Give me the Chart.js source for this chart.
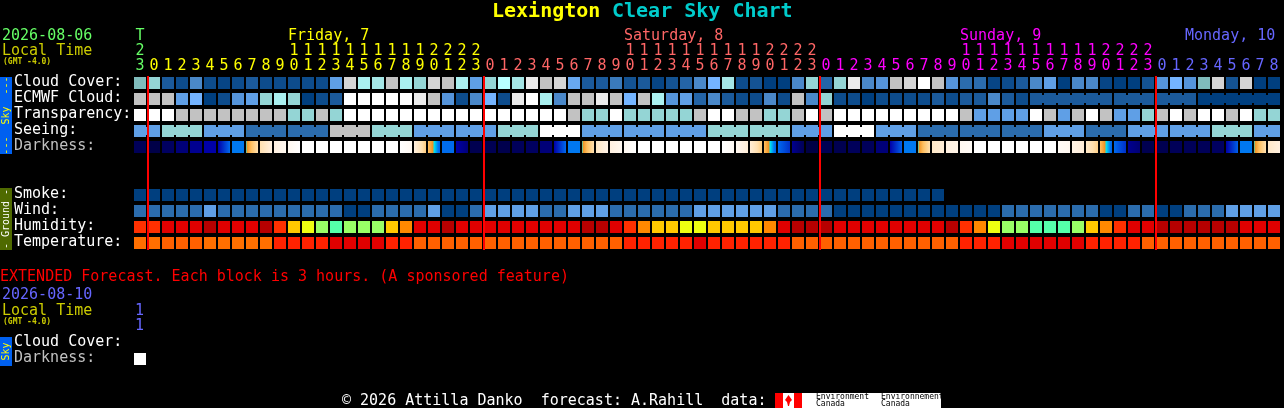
<!DOCTYPE html>
<html lang="en">
<head>
  <meta charset="UTF-8" />
  <title>Lexington Clear Sky Chart</title>
  <script src="https://cdnjs.cloudflare.com/ajax/libs/Chart.js/4.4.1/chart.umd.js"></script>
  <style>
    html, body { margin: 0; padding: 0; background: #000; overflow: hidden; }
    canvas { display: block; }
  </style>
</head>
<body>
  <canvas id="csc" width="1284" height="408"></canvas>

  <script>
    // hours as printed above each column (tens, ones)
    const tickTop = ['T']
    const tickTens = ['2','','','','','','','','','','','1','1','1','1','1','1','1','1','1','1','2','2','2','2','','','','','','','','','','','1','1','1','1','1','1','1','1','1','1','2','2','2','2','','','','','','','','','','','1','1','1','1','1','1','1','1','1','1','2','2','2','2','','','','','','','','','']
    const tickOnes = ['3','0','1','2','3','4','5','6','7','8','9','0','1','2','3','4','5','6','7','8','9','0','1','2','3','0','1','2','3','4','5','6','7','8','9','0','1','2','3','4','5','6','7','8','9','0','1','2','3','0','1','2','3','4','5','6','7','8','9','0','1','2','3','4','5','6','7','8','9','0','1','2','3','0','1','2','3','4','5','6','7','8']
    // column where each day's colour starts
    const dayStarts = [0, 1, 25, 49, 73]
    const dayColors = ['#66ff66', '#ffff00', '#ff6666', '#ff00ff', '#6666ff']
    const midnights = [0.57, 24.57, 48.57, 72.57]

    // percent cloud
    const cloudCover = [65,70,20,10,40,10,5,10,20,10,10,10,10,10,50,92,80,75,90,80,70,92,90,80,50,70,85,75,95,90,92,55,20,20,35,15,20,5,15,25,40,60,75,10,15,0,0,40,70,25,70,95,40,45,90,92,100,90,45,30,30,5,10,20,40,50,0,40,40,5,0,0,15,45,60,45,65,92,15,92,0,0]
    const ecmwfCloud = [90,90,90,50,60,0,10,45,50,70,80,70,0,10,20,100,100,100,100,100,95,90,45,10,40,60,10,95,100,80,40,90,90,95,90,60,90,80,45,50,25,40,20,10,10,40,10,90,40,70,10,10,0,10,10,10,10,20,10,20,20,40,20,10,20,20,20,20,20,20,20,20,20,20,20,20,0,0,0,0,0,0]
    const ecmwfJoined = [[64,69],[70,72],[73,75],[76,81]]
    // 0 best .. 4 worst
    const transparency = [4,4,4,3,3,3,3,3,3,3,3,2,2,3,2,4,4,4,4,4,4,4,4,4,4,4,4,4,4,4,4,3,2,2,4,2,2,2,2,2,3,4,4,3,3,2,2,3,4,3,4,4,4,4,4,4,4,4,4,3,1,1,1,1,4,3,1,3,4,3,1,1,2,3,4,3,4,4,3,4,2,2]
    const seeing = [1,1,2,2,2,1,1,1,0,0,0,0,0,0,3,3,3,2,2,2,1,1,1,1,1,1,2,2,2,4,4,4,1,1,1,1,1,1,1,1,1,2,2,2,2,2,2,1,1,1,4,4,4,1,1,1,0,0,0,0,0,0,0,0,0,1,1,1,0,0,0,1,1,1,1,1,1,2,2,2,1,1]
    const seeingJoined = [[0,1],[2,4],[5,7],[8,10],[11,13],[14,16],[17,19],[20,22],[23,25],[26,28],[29,31],[32,34],[35,37],[38,40],[41,43],[44,46],[47,49],[50,52],[53,55],[56,58],[59,61],[62,64],[65,67],[68,70],[71,73],[74,76],[77,79],[80,81]]
    // sky brightness at the left and right edge of each block, 0 black .. 100 daylight
    const darknessStart = [15,5,20,30,40,50,50,62,66,80,90,95,100,100,100,100,100,100,100,100,90,72,61,50,10,12,8,16,20,30,50,62,66,84,90,95,100,100,100,100,100,100,100,95,88,72,61,40,3,12,10,16,16,30,50,62,66,85,90,95,100,100,100,100,100,100,97,92,85,72,61,40,10,10,15,15,15,20,50,62,66,85]
    const darknessEnd = [15,5,20,30,40,50,61,62,80,90,95,100,100,100,100,100,100,100,100,96,75,60,61,30,10,12,8,16,20,30,61,62,80,92,95,100,100,100,100,100,100,100,96,88,75,60,55,15,3,12,10,16,16,30,60,62,80,88,92,97,100,100,100,100,100,100,95,88,76,60,55,28,10,10,15,15,15,20,60,62,80,90]
    const extendedDarkness = [100]

    const smoke = [0,0,0,0,0,0,0,0,0,0,0,0,0,0,0,0,0,0,0,0,0,0,0,0,0,0,0,0,0,0,0,0,0,0,0,0,0,0,0,0,0,0,0,0,0,0,0,0,0,0,0,0,0,0,0,0,0,0]
    // 0 calm, 1 light, 2 breezy
    const wind = [1,1,1,1,1,2,1,1,1,1,1,1,1,1,1,0,0,1,1,1,1,2,0,0,1,2,2,2,2,1,1,2,2,2,1,1,1,1,1,1,2,2,2,2,2,2,1,1,1,1,0,0,0,0,0,0,0,0,0,0,0,0,1,1,1,1,1,1,1,0,0,1,1,0,0,1,1,1,2,2,2,2]
    const humidity = [85,85,90,90,90,95,90,90,90,95,85,75,70,65,60,65,65,65,75,80,90,90,95,90,90,90,90,90,90,90,90,90,95,95,90,85,80,75,75,70,70,75,75,75,75,80,90,95,95,95,90,90,90,90,90,90,90,90,95,85,80,70,65,65,60,60,60,65,75,80,85,90,90,95,95,95,95,95,95,90,90,90]
    const temperature = [25,25,26,26,26,25,25,25,25,25,28,28,28,28,30,30,30,30,28,28,26,26,26,26,26,26,26,26,26,26,26,26,26,26,26,28,28,28,28,28,30,28,28,28,28,28,28,26,26,26,26,26,26,26,26,26,26,26,26,28,28,28,30,30,30,30,30,30,28,28,28,28,26,26,26,26,26,26,26,26,26,26]

    const cloudColors = {0:'#003f7f',5:'#074585',10:'#0d4c8c',15:'#145393',20:'#1b5a9b',25:'#2464a6',30:'#2b6cad',35:'#3a7abb',40:'#4a88c9',45:'#5594da',50:'#5f9fe6',55:'#68a8f0',60:'#74b4ff',65:'#80bcbc',70:'#94d5d5',75:'#a4e6e6',80:'#aaf0f0',85:'#b8ffff',90:'#c2c2c2',92:'#d4d4d4',95:'#ebebeb',100:'#ffffff'}
    const qualityColors = ['#2b6cad', '#5f9fe6', '#94d5d5', '#c2c2c2', '#ffffff']
    const windColors = ['#003f7f', '#2b6cad', '#5f9fe6']
    const humidityColors = {95:'#b60000',90:'#e00000',85:'#ff3000',80:'#ff8800',75:'#ffc800',70:'#eeff11',65:'#99ff66',60:'#55ffaa'}
    const temperatureColors = {25:'#ff6f00',26:'#ff6000',28:'#ff2200',30:'#e00000'}
    const darknessStops = [[0,'#000040'],[10,'#000050'],[20,'#000060'],[30,'#000078'],[40,'#000090'],[50,'#0000a8'],[60,'#0060e8'],[62,'#0078f0'],[66,'#00e8f0'],[67,'#f09020'],[72,'#ffc060'],[80,'#ffe0b0'],[85,'#ffe8c8'],[90,'#fff0e0'],[95,'#fff8f0'],[100,'#ffffff']]

    function hexToRgb(h) {
      return [parseInt(h.slice(1,3),16), parseInt(h.slice(3,5),16), parseInt(h.slice(5,7),16)]
    }

    function darknessColor(v) {
      for (let k = 1; k < darknessStops.length; k++) {
        const [a, ca] = darknessStops[k-1]
        const [b, cb] = darknessStops[k]
        if (v <= b) {
          const t = (v - a) / (b - a)
          const p = hexToRgb(ca), q = hexToRgb(cb)
          return `rgb(${p.map((c, n) => Math.round(c + (q[n] - c) * t)).join(',')})`
        }
      }
      return '#ffffff'
    }

    function darknessFill(chart, start, end, i) {
      if (start === end) return darknessColor(start)
      const mid = chart.scales.x.getPixelForValue(i)
      const g = chart.ctx.createLinearGradient(mid - 6, 0, mid + 6, 0)
      for (let s = 0; s <= 12; s++) {
        g.addColorStop(s / 12, darknessColor(start + (end - start) * s / 12))
      }
      return g
    }

    function row(label, values, top, color) {
      return {
        label,
        stack: 'csc',
        barThickness: 12,
        data: values.map((v, i) => ({ x: i, y: [top, top + 0.75] })),
        backgroundColor: color
      }
    }

    // narrow bridges that tie blocks of the same forecast step together
    function links(label, values, top, ranges, colors) {
      const data = [], bg = []
      ranges.forEach(([from, to]) => {
        for (let i = from; i < to; i++) {
          data.push({ x: i + 0.5, y: [top + 0.125, top + 0.625] })
          bg.push(colors[values[i]])
        }
      })
      return { label, stack: 'csc', barThickness: 2, data, backgroundColor: bg }
    }

    const SKY = '"DejaVu Sans Mono", monospace'
    const chartTexts = [
      ['2026-08-06', 2, 36, '#66ff66'], ['Local Time', 2, 51, '#cccc00'],
      ['Friday, 7', 288, 36, '#ffff00'], ['Saturday, 8', 624, 36, '#ff6666'],
      ['Sunday, 9', 960, 36, '#ff00ff'], ['Monday, 10', 1185, 36, '#6666ff'],
      ['Cloud Cover:', 14, 82, '#ffffff'], ['ECMWF Cloud:', 14, 98, '#ffffff'],
      ['Transparency:', 14, 114, '#ffffff'], ['Seeing:', 14, 130, '#ffffff'],
      ['Darkness:', 14, 146, '#c0c0c0'],
      ['Smoke:', 14, 194, '#ffffff'], ['Wind:', 14, 210, '#ffffff'],
      ['Humidity:', 14, 226, '#ffffff'], ['Temperature:', 14, 242, '#ffffff'],
      ['EXTENDED Forecast. Each block is 3 hours. (A sponsored feature)', 0, 277, '#ff0000'],
      ['2026-08-10', 2, 295, '#6666ff'], ['Local Time', 2, 311, '#cccc00'],
      ['1', 135, 311, '#6666ff'], ['1', 135, 326, '#6666ff'],
      ['Cloud Cover:', 14, 342, '#ffffff'], ['Darkness:', 14, 358, '#c0c0c0'],
      ['\u00a9 2026 Attilla Danko  forecast: A.Rahill  data:', 342, 401, '#ffffff']
    ]

    const decorations = {
      id: 'decorations',
      afterDraw(chart) {
        const c = chart.ctx
        c.save()
        c.textBaseline = 'middle'
        c.textAlign = 'left'

        // title
        c.font = `bold 20px ${SKY}`
        c.fillStyle = '#ffff00'
        c.fillText('Lexington', 492, 12)
        c.fillStyle = '#00cccc'
        c.fillText('Clear Sky Chart', 612, 12)

        c.font = `15px ${SKY}`
        chartTexts.forEach(([t, x, y, color]) => {
          c.fillStyle = color
          c.fillText(t, x, y)
        })

        c.font = `bold 8px ${SKY}`
        c.fillStyle = '#cccc00'
        c.fillText('(GMT -4.0)', 3, 62)
        c.fillText('(GMT -4.0)', 3, 322)

        // side tabs
        const tab = (y, h, bg, fg, t) => {
          c.fillStyle = bg
          c.fillRect(0, y, 12, h)
          c.save()
          c.translate(6, y + h / 2)
          c.rotate(-Math.PI / 2)
          c.textAlign = 'center'
          c.font = `10px ${SKY}`
          c.fillStyle = fg
          c.fillText(t, 0, 0)
          c.restore()
        }
        tab(77, 77, '#0060f0', '#ffff00', '---  Sky  ---')
        tab(188, 62, '#4f6a00', '#ffffff', '- Ground -')
        tab(337, 29, '#0060f0', '#ffff00', 'Sky')

        // data credit
        c.fillStyle = '#ff0000'
        c.fillRect(775, 393, 27, 15)
        c.fillStyle = '#ffffff'
        c.fillRect(783, 393, 158, 15)
        c.fillStyle = '#ff0000'
        c.fillRect(794, 393, 8, 15)
        c.beginPath()
        c.moveTo(788.5, 395); c.lineTo(792, 400); c.lineTo(790, 402); c.lineTo(789, 406)
        c.lineTo(788, 406); c.lineTo(787, 402); c.lineTo(785, 400)
        c.closePath()
        c.fill()
        c.font = `8px ${SKY}`
        c.fillStyle = '#000000'
        c.fillText('Environment', 816, 397)
        c.fillText('Canada', 816, 404)
        c.fillText('Environnement', 881, 397)
        c.fillText('Canada', 881, 404)
        c.restore()
      }
    }

    function dayColor(i) {
      let k = 0
      dayStarts.forEach((s, n) => { if (i >= s) k = n })
      return dayColors[k]
    }

    function tickLabel(i) {
      return [i < tickTop.length ? tickTop[i] : '', tickTens[i], tickOnes[i]]
    }

    new Chart(document.getElementById('csc'), {
      type: 'bar',
      data: {
        datasets: [
          {
            label: 'Midnight',
            stack: 'csc',
            barThickness: 2,
            data: midnights.map(x => ({ x, y: [-0.0625, 10.8125] })),
            backgroundColor: '#ff0000'
          },
          row('Cloud Cover', cloudCover, 0, cloudCover.map(v => cloudColors[v])),
          row('ECMWF Cloud', ecmwfCloud, 1, ecmwfCloud.map(v => cloudColors[v])),
          links('ECMWF links', ecmwfCloud, 1, ecmwfJoined, cloudColors),
          row('Transparency', transparency, 2, transparency.map(v => qualityColors[v])),
          row('Seeing', seeing, 3, seeing.map(v => qualityColors[v])),
          links('Seeing links', seeing, 3, seeingJoined, qualityColors),
          row('Darkness', darknessStart, 4, ctx => darknessFill(ctx.chart, darknessStart[ctx.dataIndex], darknessEnd[ctx.dataIndex], ctx.dataIndex)),
          row('Smoke', smoke, 7, smoke.map(() => windColors[0])),
          row('Wind', wind, 8, wind.map(v => windColors[v])),
          row('Humidity', humidity, 9, humidity.map(v => humidityColors[v])),
          row('Temperature', temperature, 10, temperature.map(v => temperatureColors[v])),
          row('Extended Darkness', extendedDarkness, 17.25, extendedDarkness.map(v => darknessColor(v)))
        ]
      },
      options: {
        responsive: false,
        animation: false,
        devicePixelRatio: 1,
        inflateAmount: 0,
        borderWidth: 0,
        layout: { padding: { left: 133, right: 3, top: 0, bottom: 3 } },
        plugins: { legend: { display: false }, tooltip: { enabled: false } },
        scales: {
          x: {
            type: 'linear',
            position: 'top',
            stacked: true,
            offset: false,
            min: -0.5,
            max: 81.5,
            grid: { display: false, drawTicks: false },
            border: { display: false },
            afterBuildTicks: scale => { scale.ticks = tickOnes.map((_, i) => ({ value: i })) },
            afterFit: scale => {
              scale.height = 73
              // keep the first and last hour label from pushing the plot inward
              scale.paddingLeft = 0
              scale.paddingRight = 0
            },
            ticks: {
              autoSkip: false,
              maxRotation: 0,
              padding: -1,
              font: { family: 'DejaVu Sans Mono', size: 15, lineHeight: 1 },
              color: ctx => dayColor(ctx.index),
              callback: (value, index) => tickLabel(index)
            }
          },
          y: { display: false, reverse: true, stacked: false, min: -0.25, max: 20.5 }
        }
      },
      plugins: [decorations]
    })
  </script>
</body>
</html>
